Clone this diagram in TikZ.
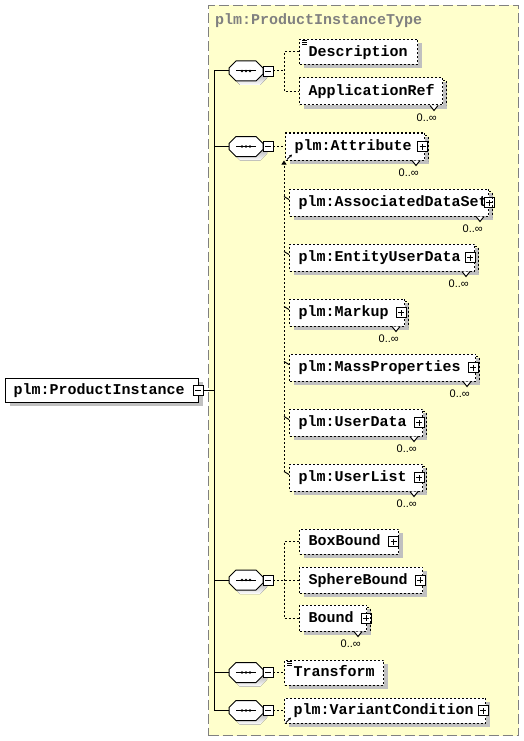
\documentclass[tikz,border=0pt]{standalone}
\usepackage{fontspec}
\usetikzlibrary{shadows,arrows.meta,calc}
\newfontfamily\xsdfont{Liberation Mono}[HyphenChar=None]
\newfontfamily\occfont{Liberation Sans}
\newcommand\elemfont{\xsdfont\fontsize{15}{18}\bfseries}
\definecolor{typefill}{RGB}{255,255,204}
\definecolor{typeline}{RGB}{128,128,128}
\definecolor{shade}{RGB}{192,192,192}

\begin{document}
\begin{tikzpicture}[
    x=1pt, y=-1pt,
    shade4/.style={drop shadow={shadow xshift=4pt, shadow yshift=-4pt, fill=shade, opacity=1}},
    elem/.style={draw, dash pattern=on 2pt off 2pt, line width=1pt, fill=white, shade4, anchor=west,
        font=\elemfont, inner xsep=9pt, inner ysep=0pt, minimum height=25pt,
        text height=8.5pt, text depth=0pt, align=left},
    subst/.style={elem, minimum height=27pt},
    root/.style={draw, line width=1pt, fill=white, shade4, anchor=west, font=\elemfont,
        inner xsep=8pt, inner ysep=0pt, minimum height=24pt, text height=8.5pt, text depth=0pt, align=left},
    seq/.style={minimum width=34pt, minimum height=20pt, inner sep=0pt},
    pmbox/.style={draw, line width=0.8pt, fill=white, minimum size=10pt, inner sep=0pt},
    collapse/.style={pmbox, path picture={
        \draw[line width=0.8pt] ([xshift=-3pt]path picture bounding box.center) -- ([xshift=3pt]path picture bounding box.center);}},
    expand/.style={pmbox, path picture={
        \draw[line width=0.8pt] ([xshift=-3pt]path picture bounding box.center) -- ([xshift=3pt]path picture bounding box.center)
            ([yshift=-3pt]path picture bounding box.center) -- ([yshift=3pt]path picture bounding box.center);}},
    tree/.style={line width=1pt},
    conn/.style={line width=1pt, dash pattern=on 2pt off 2pt},
    refarrow/.style={line width=1pt, -{Stealth[length=3pt, width=3pt]}},
    occurs/.style={font=\occfont\fontsize{11}{13}\selectfont, anchor=east, inner sep=0pt}
]
    \useasboundingbox (0,0) rectangle (524,741);
    \fill[white] (0,0) rectangle (524,741);

    % complex type frame
    \node[draw=typeline, dash pattern=on 10pt off 4pt, line width=1pt, fill=typefill, anchor=north west,
        minimum width=310pt, minimum height=730pt, inner sep=0pt] (ptbox) at (208,5) {};
    \node[font=\elemfont, text=typeline, anchor=base west, inner sep=0pt] (ptname) at (215,25) {plm:ProductInstanceType};

    % root element
    \node[root, text width=177pt] (pi) at (5,390) {plm:ProductInstance};
    \node[collapse] (pim) at (198,390) {};
    \coordinate (trunk) at (214,390);

    % sequences
    \node[seq] (s1) at (246,71) {};
    \node[seq] (s2) at (246,146.5) {};
    \node[seq] (s3) at (246,580) {};
    \node[seq] (s4) at (246,672.5) {};
    \node[seq] (s5) at (246,710.5) {};
    \foreach \s in {s1,s2,s3,s4,s5} {
        \fill[shade] ([shift={(4,4)}]\s.center) ++(-17,-3) -- ++(7,-7) -- ++(20,0) -- ++(7,7) -- ++(0,6)
            -- ++(-7,7) -- ++(-20,0) -- ++(-7,-7) -- cycle;
        \draw[line width=1pt, fill=white] (\s.center) ++(-17,-3) -- ++(7,-7) -- ++(20,0) -- ++(7,7) -- ++(0,6)
            -- ++(-7,7) -- ++(-20,0) -- ++(-7,-7) -- cycle;
        \draw[line width=1pt] ([xshift=-10pt]\s.center) -- ([xshift=10pt]\s.center);
        \foreach \d in {-4,0,4} \fill ([xshift=\d*1pt]\s.center) circle (1.3pt);
    }
    \node[collapse] (s1m) at (268,71) {};
    \node[collapse] (s2m) at (268,146.5) {};
    \node[collapse] (s3m) at (268,580) {};
    \node[collapse] (s4m) at (268,672.5) {};
    \node[collapse] (s5m) at (268,710.5) {};

    % elements
    \node[elem, text width=100pt] (desc) at (299,52) {Description};
    \node[elem, text width=125pt, minimum height=27pt] (appref) at (299,91.5) {ApplicationRef};

    \node[subst, text width=121pt] (attr) at (285,146.5) {plm:Attribute};
    \node[subst, text width=181pt] (ads) at (289,202.5) {plm:AssociatedDataSet};
    \node[subst, text width=167pt] (eud) at (289,257.5) {plm:EntityUserData};
    \node[subst, text width=97pt] (mkp) at (289,312.5) {plm:Markup};
    \node[subst, text width=168pt] (mas) at (289,367.5) {plm:MassProperties};
    \node[subst, text width=115pt] (udt) at (289,422.5) {plm:UserData};
    \node[subst, text width=115pt] (ulist) at (289,477.5) {plm:UserList};

    \node[elem, text width=81pt] (boxb) at (299,541.5) {BoxBound};
    \node[elem, text width=105pt, minimum height=26pt] (sphb) at (299,580) {SphereBound};
    \node[elem, text width=49pt, minimum height=26pt] (bound) at (299,618) {Bound};

    \node[elem, text width=81pt] (trf) at (284,672.5) {Transform};
    \node[elem, text width=183pt] (varc) at (284,710.5) {plm:VariantCondition};

    \node[expand] (attrx) at (422.5,146.5) {};
    \node[expand] (adsx) at (489,202.5) {};
    \node[expand] (eudx) at (470,257.5) {};
    \node[expand] (mkpx) at (401,312.5) {};
    \node[expand] (masx) at (473,367.5) {};
    \node[expand] (udtx) at (419,422.5) {};
    \node[expand] (ulistx) at (419,477.5) {};
    \node[expand] (boxbx) at (393.5,541.5) {};
    \node[expand] (sphbx) at (420,580) {};
    \node[expand] (boundx) at (366,618) {};
    \node[expand] (varcx) at (483,710.5) {};

    % unbounded elements
    \foreach \m in {appref,attr,ads,eud,mkp,mas,udt,ulist,bound} {
        \draw[conn] ([shift={(0,3)}]\m.north east) -- ++(3,0) -- ([shift={(3,0)}]\m.south east);
        \draw[line width=1pt, fill=white] ([shift={(-13,0)}]\m.south east) -- ++(4,5) -- ++(4,-5);
        \node[occurs] (\m-occ) at ([shift={(-6,12)}]\m.south east) {0..∞};
    }

    % simple content marks
    \foreach \m in {desc,trf}
        \draw[line width=0.8pt] ([shift={(3,1.5)}]\m.north west) -- ++(5,0) ++(-5,2) -- ++(5,0) ++(-5,2) -- ++(5,0);

    % references
    \draw[refarrow] ([shift={(2,-1)}]attr.south west) -- ++(5,-5);
    \draw[refarrow] ([shift={(2,-1)}]varc.south west) -- ++(5,-5);

    % tree
    \draw[tree] (pim) -- (trunk);
    \draw[tree] (s1.west) -- (s1.west -| trunk) -- (s5.west -| trunk) -- (s5.west);
    \draw[tree] (s2.west) -- (s2.west -| trunk);
    \draw[tree] (s3.west) -- (s3.west -| trunk);
    \draw[tree] (s4.west) -- (s4.west -| trunk);

    % sequence contents
    \draw[conn] (s1m.east) -- ++(11,0);
    \draw[conn] (desc.west) -- ++(-15,0) |- (appref.west);
    \draw[conn] (s2m.east) -- (attr.west);
    \coordinate (subbot) at (284,471.5);
    \draw[conn, -{Triangle[length=4pt, width=5pt]}] (subbot) -- (subbot |- attr.south);
    \foreach \m in {ads,eud,mkp,mas,udt,ulist}
        \draw[line width=1pt] ($(\m.west)+(-5,-6)$) -- ($(\m.west)+(0,-3)$);
    \draw[conn] (s3m.east) -- (sphb.west);
    \draw[conn] (boxb.west) -- ++(-15,0) |- (bound.west);
    \draw[conn] (s4m.east) -- (trf.west);
    \draw[conn] (s5m.east) -- (varc.west);
\end{tikzpicture}
\end{document}
